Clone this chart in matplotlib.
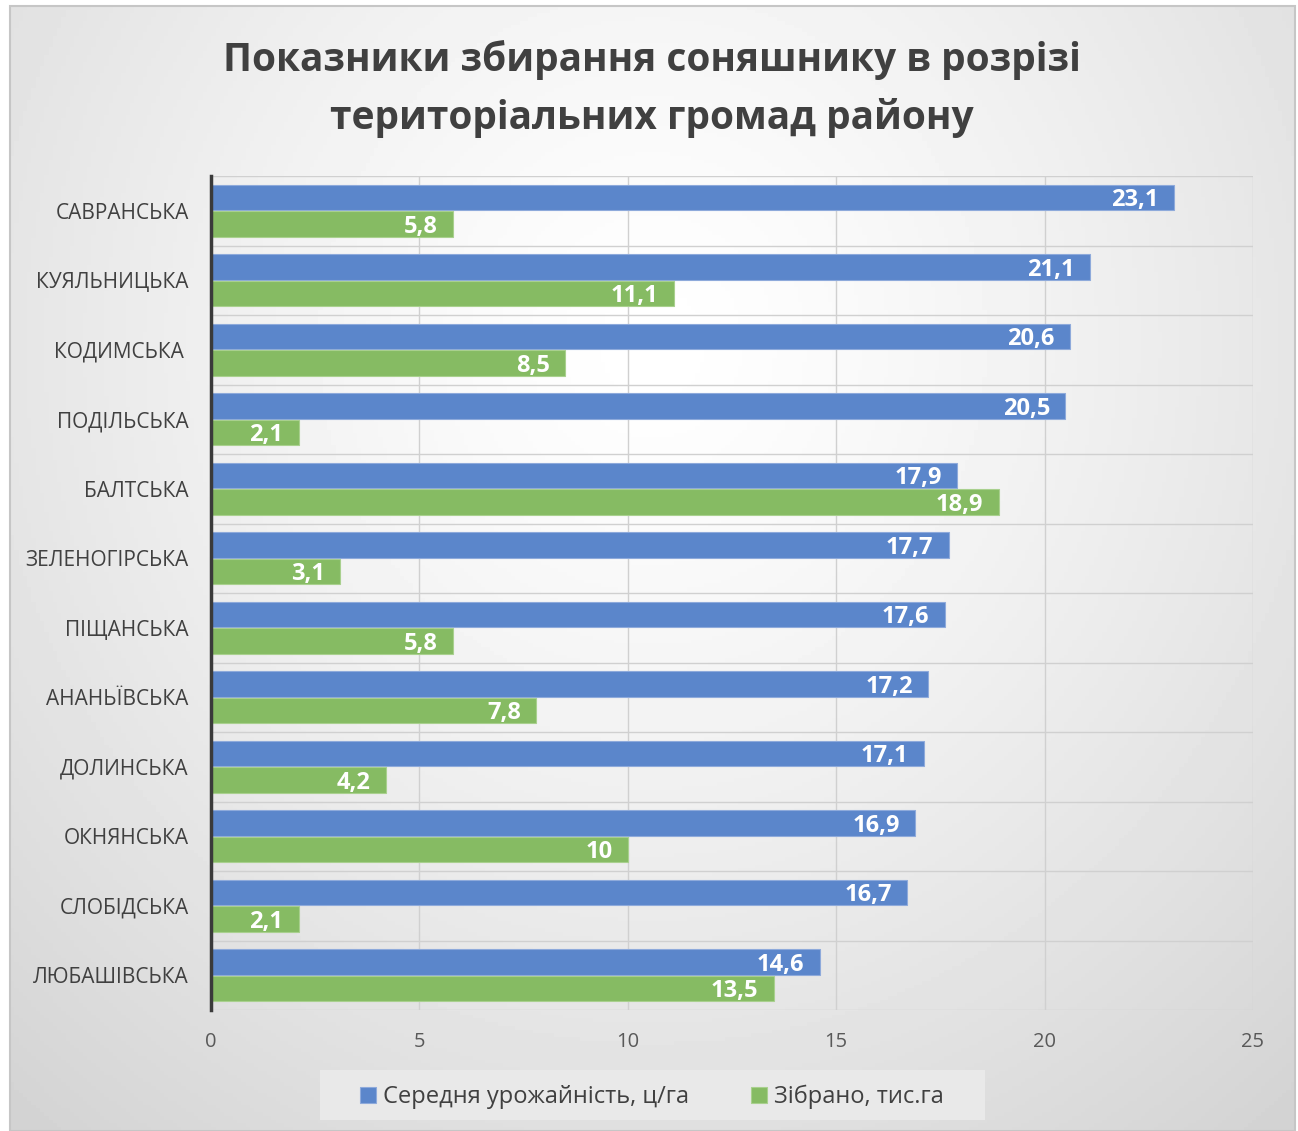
import numpy as np
import matplotlib.pyplot as plt
from matplotlib.patches import Rectangle

plt.rcParams['font.family'] = ['Open Sans', 'DejaVu Sans']

communities = ["САВРАНСЬКА", "КУЯЛЬНИЦЬКА", "КОДИМСЬКА ", "ПОДІЛЬСЬКА", "БАЛТСЬКА",
               "ЗЕЛЕНОГІРСЬКА", "ПІЩАНСЬКА", "АНАНЬЇВСЬКА", "ДОЛИНСЬКА", "ОКНЯНСЬКА",
               "СЛОБІДСЬКА", "ЛЮБАШІВСЬКА"]
yield_avg = [23.1, 21.1, 20.6, 20.5, 17.9, 17.7, 17.6, 17.2, 17.1, 16.9, 16.7, 14.6]
harvested = [5.8, 11.1, 8.5, 2.1, 18.9, 3.1, 5.8, 7.8, 4.2, 10, 2.1, 13.5]
series_names = ["Середня урожайність, ц/га", "Зібрано, тис.га"]

W, H = 1298, 1131
fig = plt.figure(figsize=(W / 100, H / 100), dpi=100)

# chart background: soft radial gradient with thin border
bg = fig.add_axes([10 / W, 0, 1285 / W, 1 - 6 / H])
gx, gy = np.meshgrid(np.linspace(0, 1, 300), np.linspace(0, 1, 300))
r = np.sqrt(((gx - 0.5) / 0.75) ** 2 + ((gy - 0.3) / 0.9) ** 2)
shade = 1.0 - 0.17 * np.clip(r, 0, 1) ** 1.3
bg.imshow(shade, cmap='gray', vmin=0, vmax=1, extent=[0, 1, 1, 0], aspect='auto')
bg.add_patch(Rectangle((0, 0), 1, 1, transform=bg.transAxes, fill=False,
                       edgecolor='#c6c6c6', lw=1.5, clip_on=False))
bg.set_axis_off()

# legend panel
fig.patches.append(Rectangle((320 / W, 1 - 1120 / H), 665 / W, 50 / H,
                             transform=fig.transFigure, facecolor='#e9e9e9',
                             edgecolor='none', zorder=1))

ax = fig.add_axes([211 / W, 1 - 1010 / H, (1253 - 211) / W, (1010 - 176) / H])
ax.set_facecolor('none')

y = np.arange(len(communities))
h = 0.37
off = 0.19
b1 = ax.barh(y - off, yield_avg, height=h, color='#5b86cb', edgecolor='#8eaadb', lw=0.8,
             label=series_names[0], zorder=3)
b2 = ax.barh(y + off, harvested, height=h, color='#86bb63', edgecolor='#a9d08e', lw=0.8,
             label=series_names[1], zorder=3)

for bars, vals in ((b1, yield_avg), (b2, harvested)):
    for bar, v in zip(bars, vals):
        ax.annotate(f"{v:g}".replace('.', ','), (v, bar.get_y() + bar.get_height() / 2),
                    xytext=(-11, -2), textcoords='offset points', ha='right', va='center',
                    color='white', fontsize=17, fontweight='bold', zorder=4)

ax.set_xlim(0, 25)
ax.set_ylim(len(communities) - 0.5, -0.5)
ax.set_xticks(np.arange(0, 26, 5))
ax.set_yticks(y)
ax.set_yticklabels(communities)
ax.set_yticks(np.arange(-0.5, len(communities), 1), minor=True)
ax.tick_params(axis='y', which='both', length=0, pad=16, labelsize=15, labelcolor='#404040')
ax.tick_params(axis='x', length=0, pad=16, labelsize=14.5, labelcolor='#595959')
ax.grid(axis='x', which='major', color='#d0d0d0', lw=1, zorder=0)
ax.grid(axis='y', which='minor', color='#d0d0d0', lw=1, zorder=0)
for s in ('top', 'right', 'bottom'):
    ax.spines[s].set_visible(False)
ax.spines['left'].set_color('#3a3a3a')
ax.spines['left'].set_linewidth(2.5)
ax.spines['left'].set_zorder(5)

fig.text(652 / W, 1 - 89 / H, "Показники збирання соняшнику в розрізі\nтериторіальних громад району",
         ha='center', va='center', fontsize=28, fontweight='bold', color='#404040',
         linespacing=1.58)

leg = fig.legend(handles=[b1, b2], labels=series_names, loc='center',
                 bbox_to_anchor=(652 / W, 1 - 1097 / H), ncol=2, fontsize=17,
                 frameon=False, handlelength=0.7, handleheight=0.7, handletextpad=0.3,
                 columnspacing=2.6, borderaxespad=0)
for t in leg.get_texts():
    t.set_color('#404040')

fig.savefig('out.png', dpi=100)
